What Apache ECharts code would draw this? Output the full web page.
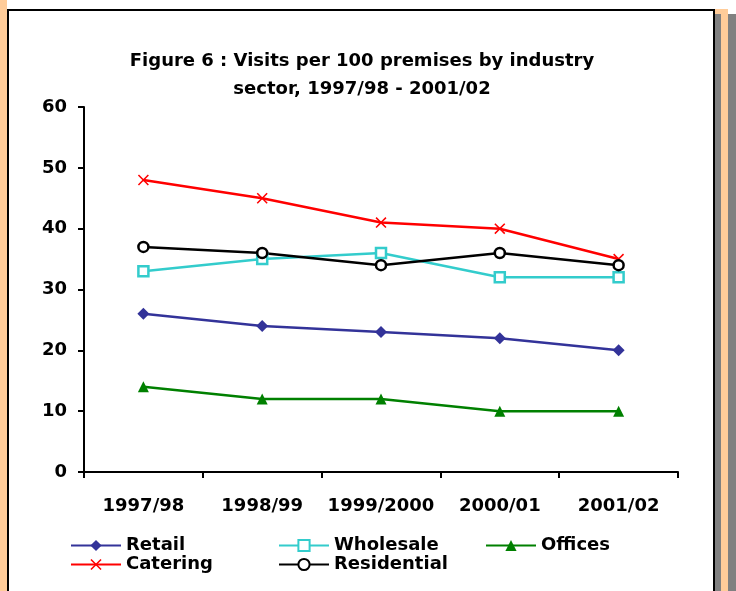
<!DOCTYPE html>
<html>
<head>
<meta charset="utf-8">
<script src="https://cdn.jsdelivr.net/npm/echarts@6/dist/echarts.min.js"></script>
<style>
  html, body { margin: 0; padding: 0; background: #fff; }
  #chart { width: 736px; height: 591px; }
</style>
</head>
<body>
<div id="chart"></div>
<script>
// 年度与各行业数据
const years = ['1997/98', '1998/99', '1999/2000', '2000/01', '2001/02'];
const retail = [26, 24, 23, 22, 20];
const wholesale = [33, 35, 36, 32, 32];
const offices = [14, 12, 12, 10, 10];
const catering = [48, 45, 41, 40, 35];
const residential = [37, 36, 34, 36, 34];

const FONT = 'DejaVu Sans, sans-serif';
const crossPath = 'path://M0,1 L1,0 L5,4 L9,0 L10,1 L6,5 L10,9 L9,10 L5,6 L1,10 L0,9 L4,5 Z';

function lineSeries(name, data, color, symbol, size, hollow) {
    return {
        name: name, type: 'line', data: data,
        symbol: symbol, symbolSize: size,
        lineStyle: { color: color, width: 2.5 },
        itemStyle: hollow
            ? { color: '#fff', borderColor: color, borderWidth: 2.5 }
            : { color: color, borderColor: color, borderWidth: 0 },
        emphasis: { disabled: true },
        animation: false
    };
}

function legendCol(left, names) {
    return {
        data: names, orient: 'vertical', left: left, top: 531,
        itemWidth: 50, itemHeight: 14, itemGap: 0,
        textStyle: { fontSize: 18, fontWeight: 'bold', color: '#000', fontFamily: FONT, lineHeight: 19 },
        selectedMode: false
    };
}

const chart = echarts.init(document.getElementById('chart'));
chart.setOption({
    backgroundColor: '#fff',
    animation: false,
    graphic: [
        // 外框装饰
        { type: 'rect', shape: { x: 0, y: 0, width: 7, height: 591 }, style: { fill: '#FFCC99' } },
        { type: 'line', shape: { x1: 8, y1: 9, x2: 8, y2: 591 }, style: { stroke: '#000', lineWidth: 2 } },
        { type: 'line', shape: { x1: 7, y1: 10, x2: 715, y2: 10 }, style: { stroke: '#000', lineWidth: 2 } },
        { type: 'line', shape: { x1: 714, y1: 9, x2: 714, y2: 591 }, style: { stroke: '#000', lineWidth: 2 } },
        { type: 'rect', shape: { x: 715, y: 14, width: 6, height: 577 }, style: { fill: '#808080' } },
        { type: 'rect', shape: { x: 715, y: 9, width: 6, height: 5 }, style: { fill: '#FFCC99' } },
        { type: 'rect', shape: { x: 721, y: 9, width: 7, height: 582 }, style: { fill: '#FFCC99' } },
        { type: 'rect', shape: { x: 728, y: 14, width: 8, height: 577 }, style: { fill: '#808080' } },
        {
            type: 'text', x: 362, y: 47,
            style: {
                text: 'Figure 6 : Visits per 100 premises by industry\nsector, 1997/98 - 2001/02',
                fill: '#000', font: 'bold 18px ' + FONT, align: 'center', lineHeight: 28
            }
        }
    ],
    legend: [
        legendCol(65, ['Retail', 'Catering']),
        legendCol(273, ['Wholesale', 'Residential']),
        legendCol(480, ['Offices'])
    ],
    grid: { left: 84, right: 58, top: 107, bottom: 119, containLabel: false },
    xAxis: {
        type: 'category', data: years, boundaryGap: true,
        axisLine: { lineStyle: { color: '#000', width: 2 } },
        axisTick: { show: true, length: 6, lineStyle: { color: '#000', width: 2 } },
        axisLabel: { fontSize: 18, fontWeight: 'bold', color: '#000', fontFamily: FONT, margin: 25, interval: 0 },
        splitLine: { show: false }
    },
    yAxis: {
        type: 'value', min: 0, max: 60, interval: 10,
        axisLine: { show: true, lineStyle: { color: '#000', width: 2 } },
        axisTick: { show: true, length: 6, lineStyle: { color: '#000', width: 2 } },
        axisLabel: { fontSize: 18, fontWeight: 'bold', color: '#000', fontFamily: FONT, margin: 17 },
        splitLine: { show: false }
    },
    series: [
        lineSeries('Retail', retail, '#333399', 'diamond', 12, false),
        lineSeries('Wholesale', wholesale, '#33CCCC', 'rect', 10, true),
        lineSeries('Offices', offices, '#008000', 'triangle', 11, false),
        lineSeries('Catering', catering, '#FF0000', crossPath, 11, false),
        lineSeries('Residential', residential, '#000000', 'circle', 10, true)
    ]
});
</script>
</body>
</html>
